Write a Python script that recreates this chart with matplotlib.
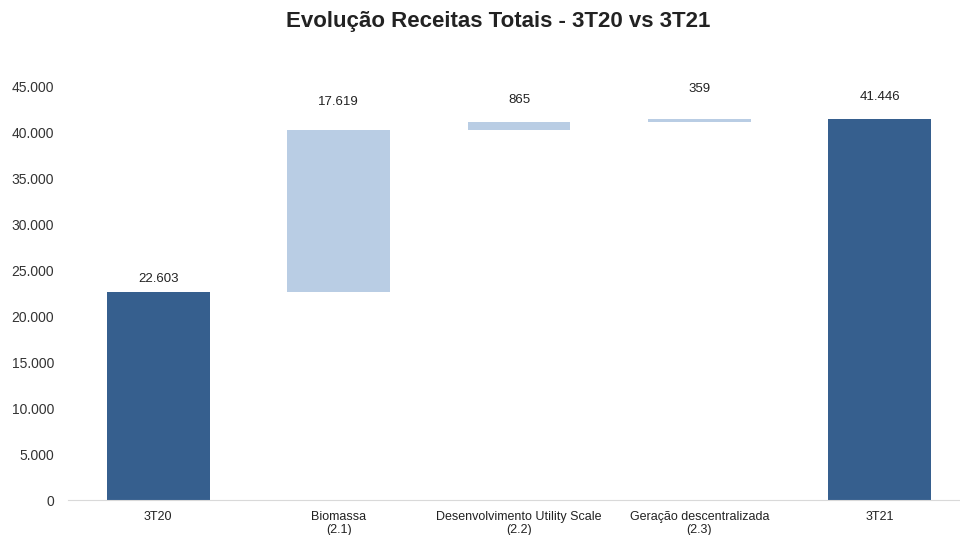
import matplotlib
matplotlib.use("Agg")
import matplotlib.pyplot as plt
import numpy as np

categories = ["3T20", "Biomassa\n(2.1)", "Desenvolvimento Utility Scale\n(2.2)",
              "Geração descentralizada\n(2.3)", "3T21"]
values = [22603, 17619, 865, 359, 41446]
kinds = ["total", "delta", "delta", "delta", "total"]
labels = ["22.603", "17.619", "865", "359", "41.446"]
yticks = [0, 5000, 10000, 15000, 20000, 25000, 30000, 35000, 40000, 45000]
label_offsets = [5, 15.5, 11.5, 17, 11]  # points above bar top

dark = "#365F8E"
light = "#B9CDE4"

fig = plt.figure(figsize=(9.6, 5.35), dpi=100)
ax = fig.add_axes([68/960, 1-500/535, (970-68)/960, (500-86)/535])

x = np.arange(len(categories))
bottoms, heights, colors = [], [], []
running = 0
for v, k in zip(values, kinds):
    if k == "total":
        bottoms.append(0); heights.append(v); colors.append(dark); running = v
    else:
        bottoms.append(running); heights.append(v); colors.append(light); running += v

ax.bar(x, heights, bottom=bottoms, width=0.57, color=colors, edgecolor="none")

for xi, b, h, lab, off in zip(x, bottoms, heights, labels, label_offsets):
    ax.annotate(lab, (xi, b + h), xytext=(0, off), textcoords="offset points",
                ha="center", va="bottom", fontsize=9.5, color="#222222",
                family=["Liberation Sans"])

ax.set_xlim(-0.5, 4.5)
ax.set_ylim(0, 45000)
ax.set_yticks(yticks)
ax.set_yticklabels([f"{t:,}".replace(",", ".") for t in yticks],
                   fontsize=10, color="#333333", family=["Liberation Sans"])
ax.set_xticks(x)
ax.set_xticklabels(categories, fontsize=9, color="#222222",
                   family=["Liberation Sans Narrow", "Liberation Sans"], linespacing=1.15)
ax.tick_params(axis="y", length=0, pad=10)
ax.tick_params(axis="x", length=0, pad=8)
for s in ["top", "right", "left"]:
    ax.spines[s].set_visible(False)
ax.spines["bottom"].set_color("#D9D9D9")

fig.text(498/960, 1-22/535, "Evolução Receitas Totais - 3T20 vs 3T21", ha="center", va="center",
         fontsize=16, fontweight="bold", color="#222222", family=["Liberation Sans"])

fig.savefig("out.png", dpi=100)
